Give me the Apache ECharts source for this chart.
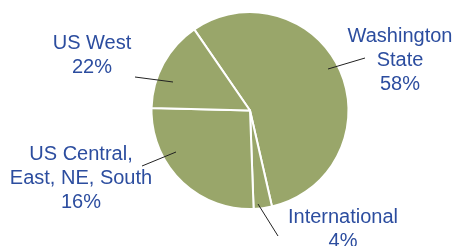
<!DOCTYPE html>
<html>
<head>
<meta charset="utf-8">
<script src="https://cdn.jsdelivr.net/npm/echarts@6/dist/echarts.min.js"></script>
<style>
  html, body { margin: 0; padding: 0; background: #fff; }
  #chart { width: 455px; height: 246px; }
</style>
</head>
<body>
<div id="chart"></div>
<script>
// slice order clockwise from the top-left boundary
var regions = ['Washington\nState', 'International', 'US Central,\nEast, NE, South', 'US West'];
// slice sizes as drawn in the picture (share of circle, %)
var sliceShares = [56, 3, 26, 15];
// percentages as printed on the labels
var printedPct = ['58%', '4%', '16%', '22%'];

// where each label sits and where its leader line runs
var labelSpots = [
    {x: 400, y: 60, line: [[328, 69], [365, 58]]},
    {x: 343, y: 229, line: [[258, 204], [278, 236]]},
    {x: 81, y: 178, line: [[176, 152], [142, 166]]},
    {x: 92, y: 55, line: [[173, 82], [135, 77]]}
];

var chart = echarts.init(document.getElementById('chart'));

var seriesData = regions.map(function (name, i) {
    return {name: name, value: sliceShares[i]};
});

// leader lines drawn on top of the slices
var leaders = labelSpots.map(function (s) {
    return {
        type: 'polyline',
        z: 100,
        silent: true,
        shape: {points: s.line},
        style: {stroke: '#222', lineWidth: 1, fill: null}
    };
});

chart.setOption({
    animation: false,
    graphic: leaders,
    series: [{
        type: 'pie',
        center: [250, 110.5],
        radius: 98.5,
        startAngle: 124.5,
        clockwise: true,
        avoidLabelOverlap: false,
        itemStyle: {
            color: '#99a66a',
            borderColor: '#fff',
            borderWidth: 2
        },
        emphasis: {disabled: true},
        label: {
            show: true,
            color: '#2c4d9f',
            fontFamily: 'Liberation Sans',
            fontSize: 20,
            lineHeight: 24,
            formatter: function (p) {
                return p.name + '\n' + printedPct[p.dataIndex];
            }
        },
        labelLine: {show: false},
        labelLayout: function (p) {
            var s = labelSpots[p.dataIndex];
            return {
                x: s.x,
                y: s.y,
                align: 'center',
                verticalAlign: 'middle'
            };
        },
        data: seriesData
    }]
});
</script>
</body>
</html>
